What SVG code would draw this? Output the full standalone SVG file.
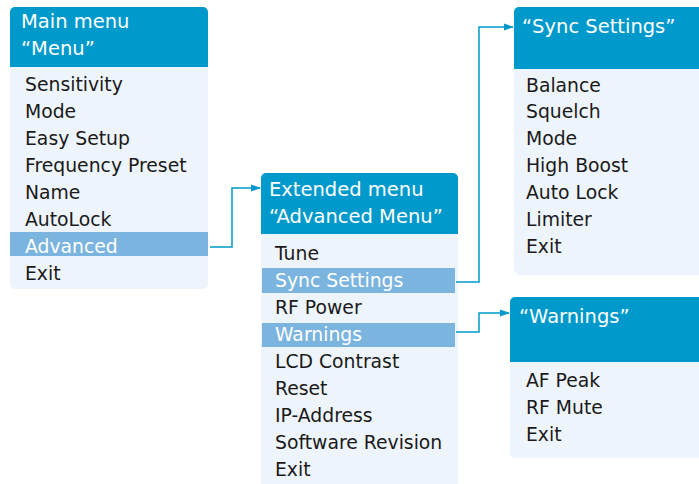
<svg xmlns="http://www.w3.org/2000/svg" width="699" height="484" viewBox="0 0 699 484">
<defs>
<style>
.body{fill:#EEF4FB}
.head{fill:#0099CC}
.hl{fill:#7BB4DE}
.ht{font-family:"DejaVu Sans",sans-serif;font-size:19.5px;fill:#FFFFFF}
.it{font-family:"DejaVu Sans",sans-serif;font-size:18.8px;fill:#1A1A1A}
.iw{font-family:"DejaVu Sans",sans-serif;font-size:18.8px;fill:#FFFFFF}
.con{fill:none;stroke:#0099CC;stroke-width:1.5}
</style>
<marker id="arr" markerWidth="10" markerHeight="8" refX="9" refY="4" orient="auto" markerUnits="userSpaceOnUse">
<path d="M0,0.5 L10,4 L0,7.5 Z" fill="#0099CC"/>
</marker>
</defs>
<rect width="699" height="484" fill="#FFFFFF"/>

<g id="main-menu">
<rect class="body" x="10" y="7" width="198" height="282" rx="5"/>
<path class="head" d="M10,67 V12 A5,5 0 0 1 15,7 H203 A5,5 0 0 1 208,12 V67 Z"/>
<text class="ht" x="21" y="28">Main menu</text>
<text class="ht" x="21" y="55">“Menu”</text>
<rect class="hl" x="10" y="232" width="198" height="24"/>
<text class="it" x="25" y="91">Sensitivity</text>
<text class="it" x="25" y="118">Mode</text>
<text class="it" x="25" y="145">Easy Setup</text>
<text class="it" x="25" y="172">Frequency Preset</text>
<text class="it" x="25" y="199">Name</text>
<text class="it" x="25" y="226">AutoLock</text>
<text class="iw" x="25" y="253">Advanced</text>
<text class="it" x="25" y="280">Exit</text>
</g>

<g id="extended-menu">
<rect class="body" x="261" y="173" width="197" height="320" rx="5"/>
<path class="head" d="M261,234 V178 A5,5 0 0 1 266,173 H453 A5,5 0 0 1 458,178 V234 Z"/>
<text class="ht" x="269" y="196">Extended menu</text>
<text class="ht" x="269" y="223">“Advanced Menu”</text>
<rect class="hl" x="262" y="268" width="193" height="25"/>
<rect class="hl" x="262" y="323" width="193" height="24"/>
<text class="it" x="275" y="260">Tune</text>
<text class="iw" x="275" y="287">Sync Settings</text>
<text class="it" x="275" y="314">RF Power</text>
<text class="iw" x="275" y="341">Warnings</text>
<text class="it" x="275" y="368">LCD Contrast</text>
<text class="it" x="275" y="395">Reset</text>
<text class="it" x="275" y="422">IP-Address</text>
<text class="it" x="275" y="449">Software Revision</text>
<text class="it" x="275" y="476">Exit</text>
</g>

<g id="sync-settings">
<rect class="body" x="514" y="7" width="200" height="268" rx="5"/>
<path class="head" d="M514,69 V12 A5,5 0 0 1 519,7 H714 V69 Z"/>
<text class="ht" x="522" y="33">“Sync Settings”</text>
<text class="it" x="526" y="92">Balance</text>
<text class="it" x="526" y="118">Squelch</text>
<text class="it" x="526" y="145">Mode</text>
<text class="it" x="526" y="172">High Boost</text>
<text class="it" x="526" y="199">Auto Lock</text>
<text class="it" x="526" y="226">Limiter</text>
<text class="it" x="526" y="253">Exit</text>
</g>

<g id="warnings">
<rect class="body" x="510" y="297" width="204" height="161" rx="5"/>
<path class="head" d="M510,362 V302 A5,5 0 0 1 515,297 H714 V362 Z"/>
<text class="ht" x="519" y="323">“Warnings”</text>
<text class="it" x="526" y="387">AF Peak</text>
<text class="it" x="526" y="414">RF Mute</text>
<text class="it" x="526" y="441">Exit</text>
</g>

<g id="connectors">
<path class="con" d="M210,247 H232 V188 H260" marker-end="url(#arr)"/>
<path class="con" d="M456,282 H479 V27 H513" marker-end="url(#arr)"/>
<path class="con" d="M456,332 H479 V313 H509" marker-end="url(#arr)"/>
</g>
</svg>
